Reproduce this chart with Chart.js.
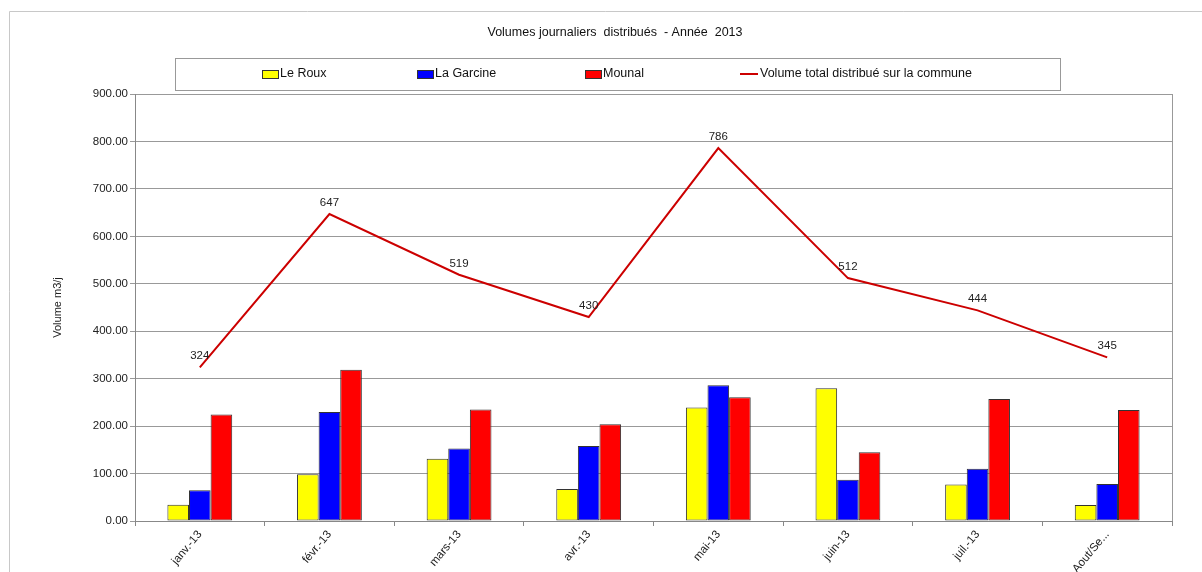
<!DOCTYPE html>
<html>
<head>
<meta charset="utf-8">
<style>
  html, body { margin: 0; padding: 0; background: #ffffff; }
  #wrap { width: 1202px; height: 572px; position: relative; }
</style>
<script src="https://cdn.jsdelivr.net/npm/chart.js@4/dist/chart.umd.min.js"></script>
</head>
<body>
<div id="wrap"><canvas id="c" width="1202" height="572"></canvas></div>
<script>
// ---- data ----
const chartTitle = 'Volumes journaliers  distribués  - Année  2013';
const yAxisTitle = 'Volume m3/j';
const categories = ['janv.-13', 'févr.-13', 'mars-13', 'avr.-13', 'mai-13', 'juin-13', 'juil.-13', 'Aout/Se...'];
const seriesNames = ['Le Roux', 'La Garcine', 'Mounal', 'Volume total distribué sur la commune'];
const leRoux    = [34.5, 98.6, 131, 67.6, 239, 280, 76.8, 33.8];
const laGarcine = [64.8, 230, 153, 158, 286, 87, 110, 78];
const mounal    = [224.6, 319, 235, 204, 261, 145, 257, 234];
const totalVolume = [324, 647, 519, 430, 786, 512, 444, 345];
const yMin = 0, yMax = 900, yStep = 100;

// ---- styles / layout ----
const FONT = '"Liberation Sans", Arial, sans-serif';
const colors = ['#FFFF00', '#0000FF', '#FF0000', '#CC0000'];
const legendItemX = [262, 417, 585, 740];

const framePlugin = {
  id: 'frame',
  beforeDraw(chart) {
    const ctx = chart.ctx;
    ctx.save();
    ctx.fillStyle = '#ffffff';
    ctx.fillRect(0, 0, chart.width, chart.height);
    ctx.strokeStyle = '#c8c8c8';
    ctx.lineWidth = 1;
    ctx.beginPath();
    ctx.moveTo(9.5, chart.height);
    ctx.lineTo(9.5, 11.5);
    ctx.lineTo(chart.width, 11.5);
    ctx.stroke();
    // title
    ctx.fillStyle = '#111';
    ctx.font = '12.5px ' + FONT;
    ctx.textAlign = 'center';
    ctx.textBaseline = 'middle';
    ctx.fillText(chartTitle, 615, 33);
    // legend box
    ctx.strokeStyle = '#999';
    ctx.strokeRect(175.5, 58.5, 885, 32);
    const ly = 74;
    chart.data.datasets.forEach((ds, i) => {
      const x = legendItemX[i];
      let tx;
      if (ds.type === 'line') {
        ctx.strokeStyle = ds.borderColor;
        ctx.lineWidth = 2;
        ctx.beginPath();
        ctx.moveTo(x, ly);
        ctx.lineTo(x + 18, ly);
        ctx.stroke();
        tx = x + 20;
      } else {
        ctx.fillStyle = ds.backgroundColor;
        ctx.fillRect(x, ly - 4, 16, 8);
        ctx.strokeStyle = '#333';
        ctx.lineWidth = 1;
        ctx.strokeRect(x + 0.5, ly - 3.5, 16, 8);
        tx = x + 18;
      }
      ctx.fillStyle = '#111';
      ctx.font = '12.5px ' + FONT;
      ctx.textAlign = 'left';
      ctx.textBaseline = 'middle';
      ctx.fillText(ds.label, tx, ly);
    });
    ctx.restore();
  },
  beforeDatasetsDraw(chart) {
    const a = chart.chartArea;
    const ctx = chart.ctx;
    ctx.save();
    ctx.strokeStyle = '#999';
    ctx.lineWidth = 1;
    ctx.beginPath();
    ctx.moveTo(Math.round(a.right) + 0.5, a.top);
    ctx.lineTo(Math.round(a.right) + 0.5, a.bottom);
    ctx.stroke();
    ctx.restore();
  },
  afterDatasetsDraw(chart) {
    const idx = chart.data.datasets.findIndex(d => d.type === 'line');
    const meta = chart.getDatasetMeta(idx);
    const ctx = chart.ctx;
    ctx.save();
    ctx.fillStyle = '#222';
    ctx.font = '11.5px ' + FONT;
    ctx.textAlign = 'center';
    ctx.textBaseline = 'alphabetic';
    meta.data.forEach((pt, i) => {
      ctx.fillText(String(chart.data.datasets[idx].data[i]), pt.x, pt.y - 8);
    });
    ctx.restore();
  }
};

const barCommon = {
  type: 'bar',
  borderColor: '#333',
  borderWidth: 1,
  borderSkipped: false,
  categoryPercentage: 0.5,
  barPercentage: 1.0,
  order: 2
};

new Chart(document.getElementById('c'), {
  data: {
    labels: categories,
    datasets: [
      Object.assign({}, barCommon, { label: seriesNames[0], data: leRoux, backgroundColor: colors[0] }),
      Object.assign({}, barCommon, { label: seriesNames[1], data: laGarcine, backgroundColor: colors[1] }),
      Object.assign({}, barCommon, { label: seriesNames[2], data: mounal, backgroundColor: colors[2] }),
      {
        type: 'line', label: seriesNames[3], data: totalVolume,
        borderColor: colors[3], backgroundColor: colors[3], borderWidth: 2,
        pointRadius: 0, tension: 0, fill: false, order: 0
      }
    ]
  },
  options: {
    responsive: false,
    animation: false,
    devicePixelRatio: 1,
    layout: { padding: { left: 47, top: 94, right: 30, bottom: 0 } },
    plugins: {
      legend: { display: false },
      title: { display: false },
      tooltip: { enabled: false }
    },
    scales: {
      x: {
        offset: true,
        grid: { drawOnChartArea: false, drawTicks: true, tickLength: 5, color: '#888', offset: true },
        border: { color: '#888' },
        ticks: {
          autoSkip: false, minRotation: 50, maxRotation: 50, padding: 2,
          color: '#222', font: { family: FONT, size: 11.5 }
        },
        afterFit(scale) { scale.height = 51; }
      },
      y: {
        min: yMin, max: yMax,
        grid: { color: '#999', tickLength: 5, drawTicks: true },
        border: { color: '#888' },
        ticks: {
          stepSize: yStep, padding: 2, color: '#222',
          font: { family: FONT, size: 11.5 },
          callback: v => Number(v).toFixed(2)
        },
        title: {
          display: true, text: yAxisTitle, color: '#222',
          font: { family: FONT, size: 11 }, padding: { top: 4, bottom: 4 }
        },
        afterFit(scale) { scale.width = 88; }
      }
    }
  },
  plugins: [framePlugin]
});
</script>
</body>
</html>
